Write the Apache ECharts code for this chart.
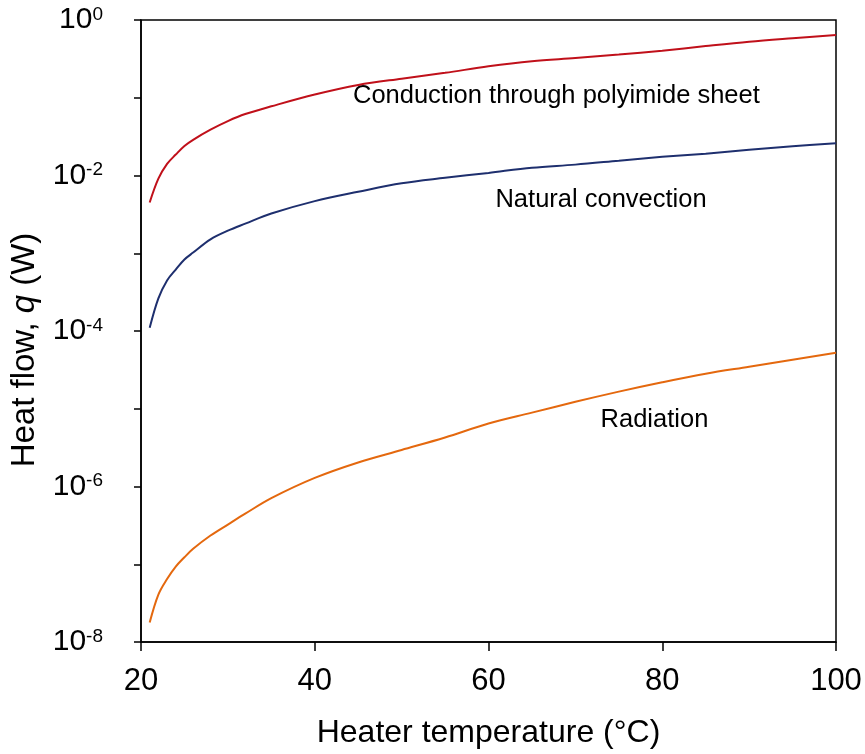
<!DOCTYPE html>
<html>
<head>
<meta charset="utf-8">
<script src="https://cdn.jsdelivr.net/npm/echarts@6/dist/echarts.min.js"></script>
<style>
  html, body { margin: 0; padding: 0; background: #fff; }
  #chart { width: 865px; height: 754px; }
</style>
</head>
<body>
<div id="chart"></div>
<script>
// Heater temperature (°C) at which each heat flow was evaluated
const temperatures = [21, 22, 23, 24, 25, 26, 28, 30, 32, 35, 40, 45, 50, 55, 60, 65, 70, 75, 80, 85, 90, 95, 100];

// Heat flow q (W) for each transfer path
const conduction = [4.5e-3, 9.1e-3, 1.41e-2, 1.86e-2, 2.40e-2, 2.88e-2, 3.89e-2, 5.01e-2, 6.17e-2, 7.76e-2,
  0.110, 0.146, 0.176, 0.209, 0.254, 0.295, 0.324, 0.359, 0.403, 0.462, 0.525, 0.582, 0.641];
const convection = [1.10e-4, 2.63e-4, 4.47e-4, 6.17e-4, 8.32e-4, 1.02e-3, 1.51e-3, 1.95e-3, 2.40e-3, 3.24e-3,
  4.68e-3, 6.17e-3, 7.94e-3, 9.33e-3, 1.08e-2, 1.26e-2, 1.38e-2, 1.55e-2, 1.74e-2, 1.91e-2, 2.14e-2, 2.37e-2, 2.60e-2];
const radiation = [1.78e-8, 4.07e-8, 6.46e-8, 9.33e-8, 1.23e-7, 1.58e-7, 2.34e-7, 3.24e-7, 4.47e-7, 7.08e-7,
  1.29e-6, 2.04e-6, 2.95e-6, 4.27e-6, 6.46e-6, 8.91e-6, 1.23e-5, 1.66e-5, 2.19e-5, 2.82e-5, 3.47e-5, 4.27e-5, 5.25e-5];

// Axis ranges
const xTicks = [20, 40, 60, 80, 100];
const yMinExp = -8;
const yMaxExp = 0;

// Curve captions, anchored at [temperature, heat flow]
const captions = [
  { text: 'Conduction through polyimide sheet', at: [44.4, 0.1053] },
  { text: 'Natural convection', at: [60.8, 4.85e-3] },
  { text: 'Radiation', at: [72.9, 7.25e-6] }
];

const FONT = '"Liberation Sans", Arial, Helvetica, sans-serif';

const pairs = (vals) => temperatures.map((t, i) => [t, vals[i]]);

const chart = echarts.init(document.getElementById('chart'), null, { renderer: 'canvas' });

const lineSeries = (name, vals, color) => ({
  name,
  type: 'line',
  data: pairs(vals),
  showSymbol: false,
  symbol: 'none',
  smooth: 0.35,
  lineStyle: { color, width: 2 },
  silent: true,
  animation: false
});

chart.setOption({
  animation: false,
  backgroundColor: '#fff',
  grid: {
    left: 139, top: 20, width: 697, height: 622,
    show: true, borderColor: '#000', borderWidth: 1.5, backgroundColor: 'transparent'
  },
  xAxis: {
    type: 'value',
    min: xTicks[0],
    max: xTicks[xTicks.length - 1],
    interval: xTicks[1] - xTicks[0],
    name: 'Heater temperature (°C)',
    nameLocation: 'middle',
    nameGap: 75,
    nameTextStyle: { fontFamily: FONT, fontSize: 32, color: '#000' },
    axisLine: { show: true, lineStyle: { color: '#000', width: 1.5 } },
    axisTick: { show: true, inside: false, length: 9, lineStyle: { color: '#000', width: 1.5 } },
    axisLabel: { fontFamily: FONT, fontSize: 31, color: '#000', margin: 24 },
    splitLine: { show: false }
  },
  yAxis: {
    type: 'log',
    logBase: 10,
    min: Math.pow(10, yMinExp),
    max: Math.pow(10, yMaxExp),
    interval: 1,
    name: 'Heat flow, {i|q} (W)',
    nameLocation: 'middle',
    nameGap: 100,
    nameTextStyle: {
      fontFamily: FONT, fontSize: 33, color: '#000',
      padding: [0, 38, 0, 0],
      rich: { i: { fontFamily: FONT, fontSize: 33, fontStyle: 'italic', color: '#000' } }
    },
    axisLine: { show: true, lineStyle: { color: '#000', width: 1.5 } },
    axisTick: { show: true, inside: false, length: 7, lineStyle: { color: '#000', width: 1.5 } },
    axisLabel: {
      margin: 38,
      formatter: (v) => {
        const e = Math.round(Math.log10(v));
        if (e % 2 !== 0) return '';
        return '{b|10}{s|' + e + '}';
      },
      rich: {
        b: { fontFamily: FONT, fontSize: 30, color: '#000' },
        s: { fontFamily: FONT, fontSize: 19, color: '#000', verticalAlign: 'top' }
      }
    },
    splitLine: { show: false },
    minorTick: { show: false }
  },
  series: [
    lineSeries('Conduction through polyimide sheet', conduction, '#C0101A'),
    lineSeries('Natural convection', convection, '#1E2F6E'),
    lineSeries('Radiation', radiation, '#E4680E')
  ]
});

// Place the captions next to their curves using the chart's own coordinate system
chart.setOption({
  graphic: captions.map((c) => {
    const p = chart.convertToPixel({ gridIndex: 0 }, c.at);
    return {
      type: 'text',
      x: p[0],
      y: p[1],
      silent: true,
      style: {
        text: c.text,
        fontFamily: FONT,
        fontSize: 25.5,
        fill: '#000',
        align: 'left',
        verticalAlign: 'middle'
      }
    };
  })
});
</script>
</body>
</html>
